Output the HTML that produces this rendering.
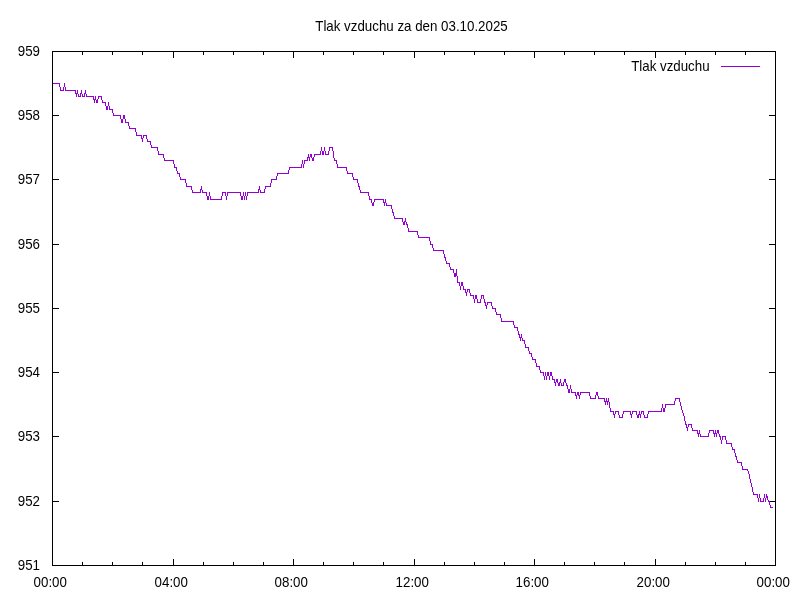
<!DOCTYPE html><html><head><meta charset="utf-8"><title>Tlak vzduchu</title><style>html,body{margin:0;padding:0;background:#fff}svg{display:block}text{font-family:"Liberation Sans",sans-serif;font-size:14px;fill:#000}</style></head><body>
<svg width="800" height="600" viewBox="0 0 800 600">
<rect width="800" height="600" fill="#fff"/>
<g stroke="#000" stroke-width="1" fill="none" shape-rendering="crispEdges"><rect x="52.5" y="51.5" width="723" height="514"/><path d="M82.5 565.5v-3.5M82.5 51.5v3.5"/><path d="M112.5 565.5v-3.5M112.5 51.5v3.5"/><path d="M142.5 565.5v-3.5M142.5 51.5v3.5"/><path d="M173.5 565.5v-6.5M173.5 51.5v6.5"/><path d="M203.5 565.5v-3.5M203.5 51.5v3.5"/><path d="M233.5 565.5v-3.5M233.5 51.5v3.5"/><path d="M263.5 565.5v-3.5M263.5 51.5v3.5"/><path d="M293.5 565.5v-6.5M293.5 51.5v6.5"/><path d="M323.5 565.5v-3.5M323.5 51.5v3.5"/><path d="M353.5 565.5v-3.5M353.5 51.5v3.5"/><path d="M383.5 565.5v-3.5M383.5 51.5v3.5"/><path d="M414.5 565.5v-6.5M414.5 51.5v6.5"/><path d="M444.5 565.5v-3.5M444.5 51.5v3.5"/><path d="M474.5 565.5v-3.5M474.5 51.5v3.5"/><path d="M504.5 565.5v-3.5M504.5 51.5v3.5"/><path d="M534.5 565.5v-6.5M534.5 51.5v6.5"/><path d="M564.5 565.5v-3.5M564.5 51.5v3.5"/><path d="M594.5 565.5v-3.5M594.5 51.5v3.5"/><path d="M624.5 565.5v-3.5M624.5 51.5v3.5"/><path d="M655.5 565.5v-6.5M655.5 51.5v6.5"/><path d="M685.5 565.5v-3.5M685.5 51.5v3.5"/><path d="M715.5 565.5v-3.5M715.5 51.5v3.5"/><path d="M745.5 565.5v-3.5M745.5 51.5v3.5"/><path d="M52.5 501.5h6.5M775.5 501.5h-6.5"/><path d="M52.5 436.5h6.5M775.5 436.5h-6.5"/><path d="M52.5 372.5h6.5M775.5 372.5h-6.5"/><path d="M52.5 308.5h6.5M775.5 308.5h-6.5"/><path d="M52.5 244.5h6.5M775.5 244.5h-6.5"/><path d="M52.5 179.5h6.5M775.5 179.5h-6.5"/><path d="M52.5 115.5h6.5M775.5 115.5h-6.5"/></g>
<g transform="translate(40 570) scale(0.952 1)"><text text-anchor="end">951</text></g>
<g transform="translate(40 506) scale(0.952 1)"><text text-anchor="end">952</text></g>
<g transform="translate(40 441) scale(0.952 1)"><text text-anchor="end">953</text></g>
<g transform="translate(40 377) scale(0.952 1)"><text text-anchor="end">954</text></g>
<g transform="translate(40 313) scale(0.952 1)"><text text-anchor="end">955</text></g>
<g transform="translate(40 249) scale(0.952 1)"><text text-anchor="end">956</text></g>
<g transform="translate(40 184) scale(0.952 1)"><text text-anchor="end">957</text></g>
<g transform="translate(40 120) scale(0.952 1)"><text text-anchor="end">958</text></g>
<g transform="translate(40 56) scale(0.952 1)"><text text-anchor="end">959</text></g>
<g transform="translate(50.25 587) scale(0.952 1)"><text text-anchor="middle">00:00</text></g>
<g transform="translate(171.25 587) scale(0.952 1)"><text text-anchor="middle">04:00</text></g>
<g transform="translate(291.25 587) scale(0.952 1)"><text text-anchor="middle">08:00</text></g>
<g transform="translate(412.25 587) scale(0.952 1)"><text text-anchor="middle">12:00</text></g>
<g transform="translate(532.25 587) scale(0.952 1)"><text text-anchor="middle">16:00</text></g>
<g transform="translate(653.25 587) scale(0.952 1)"><text text-anchor="middle">20:00</text></g>
<g transform="translate(773.25 587) scale(0.952 1)"><text text-anchor="middle">00:00</text></g>
<g transform="translate(411.5 31) scale(0.952 1)"><text text-anchor="middle">Tlak vzduchu za den 03.10.2025</text></g>
<g transform="translate(709.6 71) scale(0.952 1)"><text text-anchor="end">Tlak vzduchu</text></g>
<path d="M721 66.5h39" stroke="#9400d3" stroke-width="1" shape-rendering="crispEdges"/>
<path d="M52.5 83.5 L59.5 83.5 L60.5 90.5 L63.5 90.5 L64.5 83.5 L65.5 90.5 L75.5 90.5 L76.5 96.5 L77.5 90.5 L78.5 96.5 L80.5 96.5 L81.5 90.5 L82.5 96.5 L84.5 96.5 L85.5 90.5 L86.5 96.5 L93.5 96.5 L94.5 102.5 L95.5 96.5 L96.5 102.5 L97.5 102.5 L98.5 96.5 L101.5 96.5 L102.5 102.5 L105.5 102.5 L106.5 109.5 L107.5 109.5 L108.5 102.5 L109.5 109.5 L112.5 109.5 L113.5 115.5 L120.5 115.5 L121.5 122.5 L122.5 122.5 L123.5 115.5 L124.5 115.5 L125.5 122.5 L128.5 122.5 L129.5 128.5 L135.5 128.5 L136.5 135.5 L141.5 135.5 L142.5 141.5 L143.5 135.5 L146.5 135.5 L147.5 141.5 L150.5 141.5 L151.5 147.5 L157.5 147.5 L158.5 154.5 L163.5 154.5 L164.5 160.5 L173.5 160.5 L174.5 167.5 L176.5 167.5 L177.5 173.5 L179.5 173.5 L180.5 179.5 L185.5 179.5 L186.5 186.5 L191.5 186.5 L192.5 192.5 L200.5 192.5 L201.5 186.5 L202.5 192.5 L206.5 192.5 L207.5 199.5 L208.5 199.5 L209.5 192.5 L210.5 199.5 L221.5 199.5 L222.5 192.5 L225.5 192.5 L226.5 199.5 L227.5 192.5 L240.5 192.5 L241.5 199.5 L242.5 199.5 L243.5 192.5 L244.5 199.5 L245.5 192.5 L246.5 199.5 L247.5 192.5 L258.5 192.5 L259.5 186.5 L260.5 192.5 L264.5 192.5 L265.5 186.5 L270.5 186.5 L271.5 179.5 L276.5 179.5 L277.5 173.5 L288.5 173.5 L289.5 167.5 L301.5 167.5 L302.5 160.5 L303.5 167.5 L304.5 160.5 L307.5 160.5 L308.5 154.5 L309.5 160.5 L310.5 154.5 L311.5 154.5 L312.5 160.5 L313.5 160.5 L314.5 154.5 L320.5 154.5 L321.5 147.5 L322.5 154.5 L323.5 154.5 L324.5 147.5 L325.5 154.5 L328.5 154.5 L329.5 147.5 L332.5 147.5 L333.5 154.5 L334.5 160.5 L336.5 160.5 L337.5 167.5 L346.5 167.5 L347.5 173.5 L352.5 173.5 L353.5 179.5 L357.5 179.5 L358.5 186.5 L359.5 186.5 L360.5 192.5 L368.5 192.5 L369.5 199.5 L371.5 199.5 L372.5 205.5 L373.5 205.5 L374.5 199.5 L383.5 199.5 L384.5 205.5 L385.5 199.5 L386.5 205.5 L391.5 205.5 L392.5 212.5 L393.5 212.5 L394.5 218.5 L402.5 218.5 L403.5 224.5 L404.5 224.5 L405.5 218.5 L406.5 224.5 L407.5 224.5 L408.5 231.5 L417.5 231.5 L418.5 237.5 L429.5 237.5 L430.5 244.5 L432.5 244.5 L433.5 250.5 L443.5 250.5 L444.5 257.5 L445.5 257.5 L446.5 263.5 L449.5 263.5 L450.5 269.5 L453.5 269.5 L454.5 276.5 L455.5 276.5 L456.5 269.5 L457.5 282.5 L459.5 282.5 L460.5 289.5 L461.5 282.5 L462.5 282.5 L463.5 289.5 L465.5 289.5 L466.5 295.5 L467.5 289.5 L469.5 289.5 L470.5 295.5 L473.5 295.5 L474.5 302.5 L475.5 295.5 L476.5 295.5 L477.5 302.5 L480.5 302.5 L481.5 295.5 L483.5 295.5 L484.5 302.5 L485.5 302.5 L486.5 308.5 L487.5 302.5 L491.5 302.5 L492.5 308.5 L495.5 308.5 L496.5 314.5 L500.5 314.5 L501.5 321.5 L513.5 321.5 L514.5 327.5 L517.5 327.5 L518.5 334.5 L519.5 334.5 L520.5 340.5 L521.5 334.5 L522.5 340.5 L524.5 340.5 L525.5 347.5 L528.5 347.5 L529.5 353.5 L531.5 353.5 L532.5 359.5 L535.5 359.5 L536.5 366.5 L539.5 366.5 L540.5 372.5 L543.5 372.5 L544.5 379.5 L545.5 372.5 L546.5 379.5 L547.5 372.5 L548.5 372.5 L549.5 379.5 L550.5 372.5 L551.5 372.5 L552.5 379.5 L554.5 379.5 L555.5 385.5 L556.5 379.5 L557.5 379.5 L558.5 385.5 L559.5 385.5 L560.5 379.5 L561.5 385.5 L563.5 385.5 L564.5 379.5 L565.5 379.5 L566.5 385.5 L567.5 385.5 L568.5 392.5 L569.5 392.5 L570.5 385.5 L571.5 392.5 L575.5 392.5 L576.5 398.5 L577.5 392.5 L578.5 392.5 L579.5 398.5 L580.5 392.5 L589.5 392.5 L590.5 398.5 L595.5 398.5 L596.5 392.5 L597.5 392.5 L598.5 398.5 L604.5 398.5 L605.5 404.5 L606.5 398.5 L607.5 404.5 L608.5 398.5 L609.5 404.5 L610.5 411.5 L613.5 411.5 L614.5 417.5 L615.5 411.5 L618.5 411.5 L619.5 417.5 L622.5 417.5 L623.5 411.5 L630.5 411.5 L631.5 417.5 L632.5 411.5 L636.5 411.5 L637.5 417.5 L638.5 417.5 L639.5 411.5 L640.5 417.5 L641.5 411.5 L643.5 411.5 L644.5 417.5 L647.5 417.5 L648.5 411.5 L661.5 411.5 L662.5 404.5 L663.5 411.5 L664.5 411.5 L665.5 404.5 L674.5 404.5 L675.5 398.5 L679.5 398.5 L680.5 404.5 L682.5 411.5 L684.5 417.5 L685.5 424.5 L686.5 424.5 L687.5 430.5 L688.5 424.5 L691.5 424.5 L692.5 430.5 L697.5 430.5 L698.5 436.5 L699.5 430.5 L700.5 436.5 L708.5 436.5 L709.5 430.5 L713.5 430.5 L714.5 436.5 L715.5 430.5 L716.5 436.5 L717.5 430.5 L718.5 430.5 L719.5 436.5 L720.5 436.5 L721.5 443.5 L722.5 436.5 L725.5 436.5 L726.5 443.5 L731.5 443.5 L732.5 449.5 L734.5 449.5 L735.5 456.5 L736.5 456.5 L737.5 462.5 L741.5 462.5 L742.5 469.5 L747.5 469.5 L749.5 475.5 L750.5 481.5 L752.5 488.5 L753.5 494.5 L757.5 494.5 L758.5 501.5 L759.5 494.5 L760.5 501.5 L763.5 501.5 L764.5 494.5 L765.5 501.5 L766.5 494.5 L768.5 501.5 L769.5 501.5 L770.5 507.5 L772.5 507.5" stroke="#9400d3" stroke-width="1" fill="none" shape-rendering="crispEdges"/>
</svg></body></html>
